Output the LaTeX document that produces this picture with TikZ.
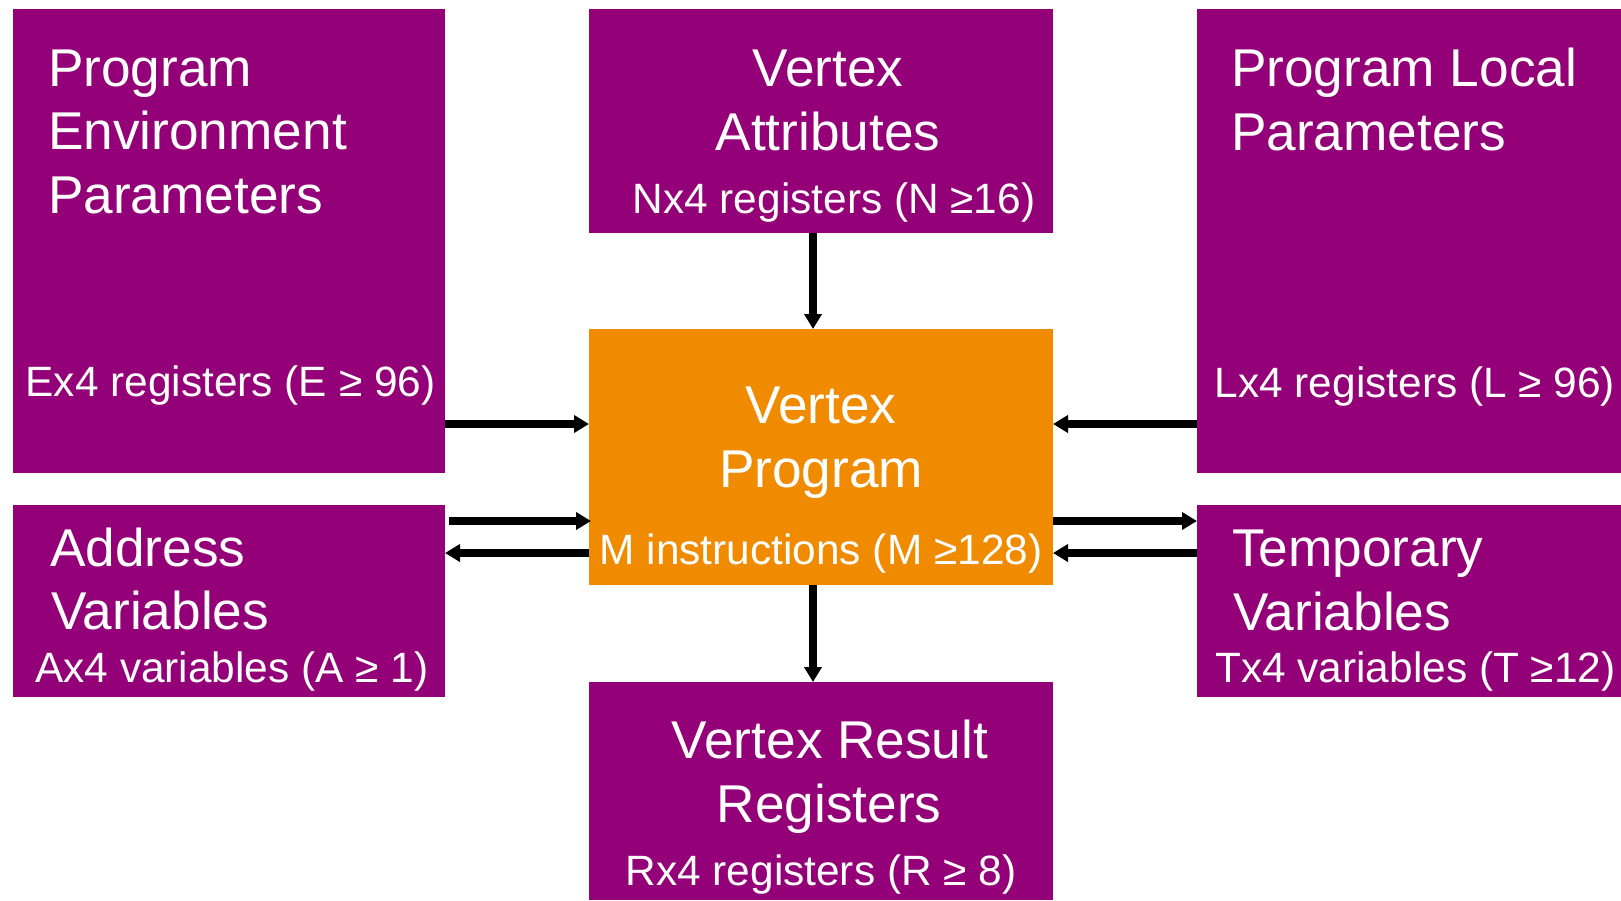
\documentclass[tikz,border=0pt]{standalone}
\usepackage{fontspec}
\setmainfont{Liberation Sans}
\usetikzlibrary{arrows.meta}
\definecolor{boxpurple}{RGB}{148,0,120}
\definecolor{boxorange}{RGB}{240,139,0}
\begin{document}
\begin{tikzpicture}[x=1pt,y=-1pt,
  block/.style={draw=none, inner sep=0pt, outer sep=0pt, anchor=north west},
  store/.style={block, fill=boxpurple},
  core/.style={block, fill=boxorange},
  head/.style={text=white, inner sep=0pt, font=\fontsize{53.2}{63}\selectfont},
  sub/.style={text=white, inner sep=0pt, font=\fontsize{42.4}{50}\selectfont},
  flow/.style={line width=7.3pt, -{Triangle[length=15pt,width=17pt]}}]
\useasboundingbox (0,0) rectangle (1621,900);

% register files and the program block
\node[store, minimum width=432pt, minimum height=464pt] (pep)  at (13,9) {};
\node[store, minimum width=464pt, minimum height=224pt] (va)   at (589,9) {};
\node[store, minimum width=424pt, minimum height=464pt] (plp)  at (1197,9) {};
\node[core,  minimum width=464pt, minimum height=256pt] (vp)   at (589,329) {};
\node[store, minimum width=432pt, minimum height=192pt] (addr) at (13,505) {};
\node[store, minimum width=424pt, minimum height=192pt] (temp) at (1197,505) {};
\node[store, minimum width=464pt, minimum height=218pt] (res)  at (589,682) {};

% labels
\node[head, anchor=base west] (pep1) at (48,86) {Program};
\node[head, anchor=base west] (pep2) at (48,149) {Environment};
\node[head, anchor=base west] (pep3) at (48,213) {Parameters};
\node[sub,  anchor=base west] (pep4) at (25.5,396) {Ex4 registers (E ≥ 96)};

\node[head, anchor=base] (va1) at (828,86) {Vertex};
\node[head, anchor=base] (va2) at (828,150) {Attributes};
\node[sub,  anchor=base] (va3) at (834,213) {Nx4 registers (N ≥16)};

\node[head, anchor=base west] (plp1) at (1231,86.5) {Program Local};
\node[head, anchor=base west] (plp2) at (1231,150) {Parameters};
\node[sub,  anchor=base west] (plp3) at (1214.5,397) {Lx4 registers (L ≥ 96)};

\node[head, anchor=base] (vp1) at (821,423) {Vertex};
\node[head, anchor=base] (vp2) at (821,487) {Program};
\node[sub,  anchor=base] (vp3) at (821,564) {M instructions (M ≥128)};

\node[head, anchor=base west] (addr1) at (50,566) {Address};
\node[head, anchor=base west] (addr2) at (51,629) {Variables};
\node[sub,  anchor=base west] (addr3) at (35,682) {Ax4 variables (A ≥ 1)};

\node[head, anchor=base west] (temp1) at (1232,566.5) {Temporary};
\node[head, anchor=base west] (temp2) at (1233,630) {Variables};
\node[sub,  anchor=base west] (temp3) at (1215,682) {Tx4 variables (T ≥12)};

\node[head, anchor=base] (res1) at (830,758) {Vertex Result};
\node[head, anchor=base] (res2) at (829,822) {Registers};
\node[sub,  anchor=base] (res3) at (821,885) {Rx4 registers (R ≥ 8)};

% connector levels
\coordinate (lvA) at (0,424);
\coordinate (lvB) at (0,521);
\coordinate (lvC) at (0,553);
\coordinate (colx) at (813,0);

\draw[flow] (pep.east |- lvA) -- (vp.west |- lvA);
\draw[flow] ([xshift=4pt]addr.east |- lvB) -- ([xshift=2pt]vp.west |- lvB);
\draw[flow] (vp.west |- lvC) -- (addr.east |- lvC);
\draw[flow] (plp.west |- lvA) -- (vp.east |- lvA);
\draw[flow] (vp.east |- lvB) -- (temp.west |- lvB);
\draw[flow] (temp.west |- lvC) -- (vp.east |- lvC);
\draw[flow] (colx |- va.south) -- (colx |- vp.north);
\draw[flow] (colx |- vp.south) -- (colx |- res.north);
\end{tikzpicture}
\end{document}
